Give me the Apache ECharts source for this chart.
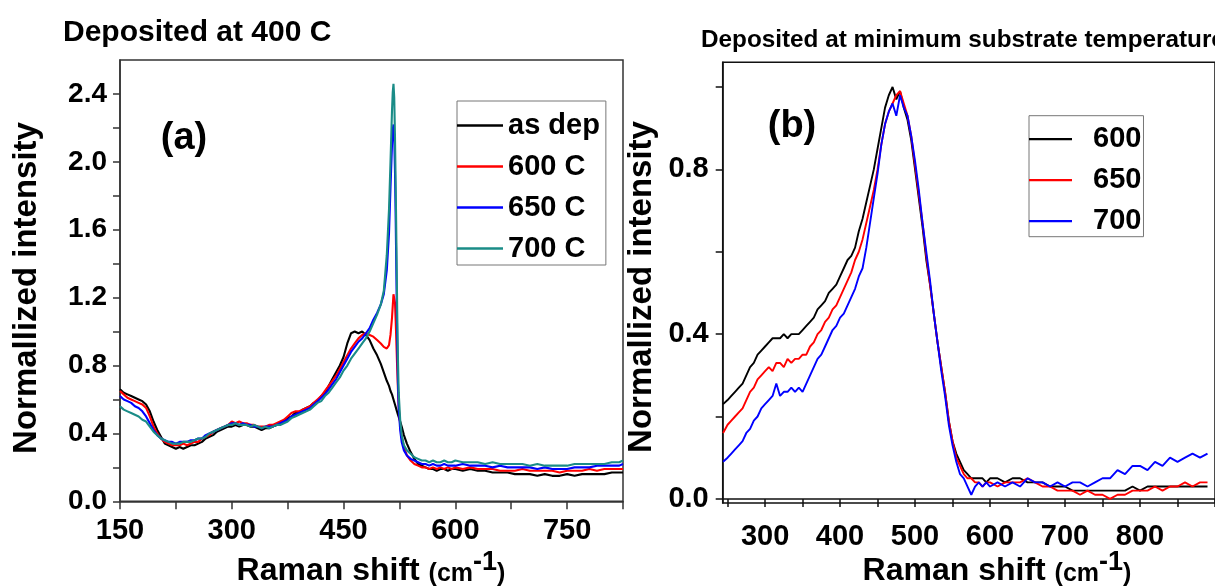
<!DOCTYPE html>
<html>
<head>
<meta charset="utf-8">
<script src="https://cdn.jsdelivr.net/npm/echarts@6/dist/echarts.min.js"></script>
<style>
html,body{margin:0;padding:0;background:#fff;}
#chart{width:1215px;height:586px;}
</style>
</head>
<body>
<div id="chart"></div>
<script>
// ---------- Panel (a): Deposited at 400 C ----------
const ramanA = [150,155,160,165,170,175,180,185,190,195,
200,205,210,215,220,225,230,235,240,245,
250,255,260,265,270,275,280,285,290,295,
300,305,310,315,320,325,330,335,340,345,
350,355,360,365,370,375,380,385,390,395,
400,405,410,415,420,425,430,435,440,445,
450,455,460,465,470,475,480,485,490,495,
500,
504,508,511,513,515,516,517,518,519,520,
521,522,523,524,526,528,531,535,540,545,
550,555,560,565,570,575,580,585,590,595,
600,
610,620,630,640,650,660,670,680,690,700,
710,720,730,740,750,760,770,780,790,800,
810,820,825];
const asDep = [0.66,0.64,0.63,0.62,0.61,0.60,0.59,0.57,0.53,0.47,
0.42,0.38,0.34,0.33,0.32,0.31,0.32,0.31,0.32,0.33,
0.33,0.34,0.35,0.37,0.38,0.39,0.41,0.42,0.43,0.44,
0.44,0.45,0.44,0.45,0.45,0.44,0.44,0.43,0.42,0.43,
0.43,0.44,0.45,0.46,0.47,0.49,0.50,0.52,0.52,0.54,
0.55,0.56,0.58,0.59,0.62,0.64,0.68,0.72,0.76,0.80,
0.85,0.93,0.99,1.00,0.99,1.00,0.98,0.95,0.90,0.86,
0.81,
0.76,0.71,0.68,0.65,0.63,0.62,0.60,0.59,0.57,0.56,
0.54,0.53,0.51,0.50,0.47,0.44,0.39,0.34,0.29,0.25,
0.22,0.21,0.20,0.19,0.19,0.18,0.19,0.19,0.18,0.19,
0.19,
0.18,0.19,0.18,0.18,0.17,0.17,0.17,0.16,0.16,0.16,
0.15,0.16,0.15,0.15,0.16,0.15,0.16,0.16,0.16,0.16,
0.17,0.17,0.17];
const a600 = [0.65,0.63,0.61,0.60,0.59,0.58,0.57,0.55,0.50,0.44,
0.40,0.37,0.35,0.34,0.33,0.33,0.33,0.34,0.33,0.34,
0.35,0.35,0.37,0.38,0.39,0.41,0.42,0.43,0.44,0.45,
0.47,0.46,0.47,0.46,0.46,0.45,0.45,0.44,0.44,0.44,
0.45,0.45,0.46,0.47,0.48,0.50,0.52,0.53,0.53,0.54,
0.55,0.56,0.58,0.60,0.62,0.65,0.68,0.71,0.74,0.78,
0.82,0.86,0.90,0.93,0.96,0.98,0.99,0.98,0.97,0.95,
0.93,
0.91,0.90,0.92,0.98,1.08,1.15,1.22,1.23,1.17,1.06,
0.92,0.78,0.66,0.56,0.45,0.38,0.32,0.27,0.24,0.22,
0.21,0.20,0.20,0.19,0.20,0.19,0.20,0.19,0.20,0.19,
0.20,
0.19,0.20,0.19,0.19,0.19,0.18,0.18,0.18,0.19,0.18,
0.18,0.18,0.18,0.17,0.18,0.18,0.18,0.19,0.18,0.19,
0.19,0.19,0.19];
const a650 = [0.62,0.60,0.59,0.58,0.56,0.55,0.53,0.50,0.46,0.42,
0.39,0.37,0.36,0.35,0.35,0.34,0.35,0.35,0.35,0.36,
0.36,0.37,0.37,0.39,0.40,0.41,0.42,0.43,0.44,0.45,
0.46,0.46,0.45,0.46,0.45,0.45,0.44,0.44,0.43,0.44,
0.44,0.44,0.45,0.46,0.47,0.48,0.50,0.51,0.52,0.53,
0.54,0.55,0.57,0.59,0.61,0.63,0.66,0.69,0.72,0.76,
0.80,0.84,0.88,0.91,0.94,0.96,0.99,1.02,1.07,1.11,
1.16,
1.22,1.36,1.58,1.85,2.10,2.19,2.22,2.15,1.95,1.65,
1.30,0.95,0.70,0.55,0.42,0.35,0.30,0.27,0.25,0.24,
0.23,0.22,0.22,0.21,0.22,0.21,0.21,0.22,0.21,0.21,
0.21,
0.22,0.21,0.21,0.21,0.20,0.21,0.20,0.20,0.20,0.20,
0.19,0.20,0.19,0.19,0.19,0.20,0.20,0.20,0.21,0.21,
0.21,0.21,0.22];
const a700 = [0.56,0.54,0.53,0.52,0.51,0.50,0.48,0.47,0.44,0.41,
0.39,0.37,0.36,0.35,0.34,0.34,0.34,0.35,0.35,0.35,
0.36,0.37,0.37,0.38,0.40,0.41,0.42,0.43,0.44,0.45,
0.45,0.46,0.45,0.45,0.45,0.44,0.45,0.44,0.43,0.44,
0.43,0.44,0.45,0.45,0.46,0.47,0.49,0.50,0.51,0.52,
0.53,0.54,0.56,0.58,0.59,0.62,0.64,0.67,0.70,0.73,
0.77,0.80,0.84,0.87,0.90,0.93,0.96,1.00,1.05,1.10,
1.16,
1.24,1.45,1.72,2.00,2.30,2.41,2.46,2.38,2.15,1.85,
1.50,1.12,0.84,0.64,0.48,0.39,0.33,0.30,0.28,0.26,
0.25,0.24,0.24,0.23,0.24,0.23,0.23,0.24,0.23,0.23,
0.24,
0.23,0.23,0.23,0.22,0.23,0.22,0.22,0.22,0.22,0.21,
0.22,0.21,0.21,0.21,0.21,0.22,0.22,0.22,0.22,0.22,
0.23,0.23,0.24];
const namesA = ['as dep','600 C','650 C','700 C'];
const xTicksA = [150,225,300,375,450,525,600,675,750,825];
const xLabelsA = [150,300,450,600,750];
const yTicksA = [0,0.2,0.4,0.6,0.8,1.0,1.2,1.4,1.6,1.8,2.0,2.2,2.4];
const yLabelsA = [0,0.4,0.8,1.2,1.6,2.0,2.4];

// ---------- Panel (b): Deposited at minimum substrate temperature ----------
const ramanB = [244,250,255,260,265,270,275,280,285,290,
295,300,305,310,315,320,325,330,335,340,
345,350,355,360,365,370,375,380,385,390,
395,400,405,410,415,420,425,430,435,440,
445,450,455,460,465,470,475,480,485,490,
495,500,505,510,515,520,525,530,535,540,
545,550,555,560,565,570,575,580,585,590,
595,600,
610,620,630,640,650,660,670,680,690,700,
710,720,730,740,750,760,770,780,790,800,
810,820,830,840,850,860,870,880,890];
const b600 = [0.23,0.24,0.25,0.26,0.27,0.28,0.30,0.32,0.33,0.35,
0.36,0.37,0.38,0.39,0.39,0.39,0.40,0.39,0.40,0.40,
0.40,0.41,0.42,0.43,0.44,0.46,0.47,0.48,0.50,0.51,
0.52,0.54,0.56,0.58,0.59,0.61,0.65,0.68,0.72,0.76,
0.80,0.85,0.90,0.95,0.98,1.00,0.97,0.99,0.95,0.92,
0.87,0.80,0.73,0.66,0.58,0.52,0.45,0.38,0.32,0.26,
0.19,0.14,0.11,0.09,0.07,0.06,0.05,0.05,0.05,0.05,
0.04,0.05,
0.05,0.04,0.05,0.05,0.04,0.04,0.04,0.03,0.03,0.03,
0.02,0.02,0.02,0.02,0.02,0.02,0.02,0.02,0.03,0.02,
0.03,0.03,0.03,0.03,0.03,0.03,0.03,0.03,0.03];
const b650 = [0.16,0.18,0.19,0.20,0.21,0.22,0.24,0.26,0.27,0.29,
0.30,0.31,0.32,0.31,0.33,0.33,0.32,0.34,0.33,0.34,
0.34,0.35,0.35,0.37,0.38,0.40,0.41,0.43,0.44,0.46,
0.47,0.49,0.51,0.53,0.55,0.58,0.60,0.63,0.67,0.71,
0.75,0.80,0.86,0.91,0.94,0.96,0.98,0.99,0.96,0.93,
0.88,0.81,0.74,0.67,0.59,0.52,0.45,0.38,0.32,0.26,
0.19,0.14,0.10,0.08,0.06,0.05,0.05,0.04,0.04,0.03,
0.04,0.04,
0.03,0.04,0.04,0.04,0.05,0.04,0.03,0.03,0.02,0.02,
0.02,0.01,0.02,0.01,0.01,0.00,0.01,0.01,0.02,0.02,
0.02,0.03,0.02,0.03,0.03,0.04,0.03,0.04,0.04];
const b700 = [0.09,0.10,0.11,0.12,0.13,0.14,0.16,0.17,0.19,0.20,
0.22,0.23,0.24,0.25,0.28,0.25,0.26,0.26,0.27,0.26,
0.27,0.26,0.28,0.30,0.32,0.34,0.35,0.37,0.39,0.41,
0.42,0.44,0.45,0.47,0.49,0.51,0.54,0.56,0.61,0.67,
0.73,0.79,0.86,0.91,0.94,0.96,0.93,0.98,0.95,0.93,
0.88,0.82,0.75,0.67,0.60,0.53,0.45,0.38,0.31,0.25,
0.18,0.13,0.09,0.06,0.05,0.03,0.01,0.03,0.04,0.03,
0.04,0.03,
0.04,0.03,0.04,0.03,0.05,0.04,0.04,0.03,0.04,0.03,
0.04,0.04,0.03,0.04,0.05,0.05,0.07,0.06,0.08,0.08,
0.07,0.09,0.08,0.10,0.09,0.10,0.11,0.10,0.11];
const namesB = ['600','650','700'];
const xTicksB = [250,300,350,400,450,500,550,600,650,700,750,800,850,900];
const xLabelsB = [300,400,500,600,700,800];
const yTicksB = [0,0.2,0.4,0.6,0.8,1.0];
const yLabelsB = [0,0.4,0.8];

// ---------- build ----------
const FONT = 'Liberation Sans, Arial, sans-serif';
const zip = (xs, ys) => xs.map((x, i) => [x, ys[i]]);

function axisCommon(color){
  return {
    axisLine: {show: true, lineStyle: {color: color, width: 1.5}},
    splitLine: {show: false},
  };
}

const series = [];
const colA = ['#000000', '#ff0000', '#0000ff', '#1a8c87'];
[asDep, a600, a650, a700].forEach((arr, i) => {
  series.push({
    name: namesA[i], type: 'line', xAxisIndex: 0, yAxisIndex: 0,
    data: zip(ramanA, arr), symbol: 'none', animation: false,
    lineStyle: {color: colA[i], width: 2.1}, itemStyle: {color: colA[i]}
  });
});
const colB = ['#000000', '#ff0000', '#0000ff'];
[b600, b650, b700].forEach((arr, i) => {
  series.push({
    name: namesB[i], type: 'line', xAxisIndex: 1, yAxisIndex: 1,
    data: zip(ramanB, arr), symbol: 'none', animation: false,
    lineStyle: {color: colB[i], width: 1.9}, itemStyle: {color: colB[i]}
  });
});

const tickLabelStyle = {fontFamily: FONT, fontWeight: 'bold', color: '#000'};

function axisNameText(x){
  return {type: 'text', x: x, y: 587, style: {
    text: '{a|Raman shift }{b|(cm}{c|-1}{b|)}', textAlign: 'center', textVerticalAlign: 'bottom',
    rich: {
      a: {fontFamily: FONT, fontWeight: 'bold', fontSize: 32, verticalAlign: 'bottom', fill: '#000'},
      b: {fontFamily: FONT, fontWeight: 'bold', fontSize: 25, verticalAlign: 'bottom', fill: '#000'},
      c: {fontFamily: FONT, fontWeight: 'bold', fontSize: 27, verticalAlign: 'top', padding: [0, 0, 11, 0], fill: '#000'}
    }}};
}

const option = {
  backgroundColor: '#fff',
  animation: false,
  grid: [
    {left: 120, top: 60, width: 503, height: 441.3, show: true, borderColor: '#333', borderWidth: 1.5, backgroundColor: 'transparent'},
    {left: 722.7, top: 62.3, width: 503, height: 440.7, show: true, borderColor: '#111', borderWidth: 1.5, backgroundColor: 'transparent'}
  ],
  xAxis: [
    Object.assign(axisCommon('#333'), {
      type: 'value', gridIndex: 0, min: 150, max: 825,
      axisTick: {show: true, inside: false, length: 8, customValues: xTicksA, lineStyle: {color: '#333', width: 1.5}},
      axisLabel: Object.assign({customValues: xLabelsA, fontSize: 29, margin: 15, formatter: v => String(v)}, tickLabelStyle)
    }),
    Object.assign(axisCommon('#111'), {
      type: 'value', gridIndex: 1, min: 243.5, max: 900,
      axisTick: {show: true, inside: false, length: 8, customValues: xTicksB, lineStyle: {color: '#111', width: 1.5}},
      axisLabel: Object.assign({customValues: xLabelsB, fontSize: 29, margin: 19, formatter: v => String(v)}, tickLabelStyle)
    })
  ],
  yAxis: [
    Object.assign(axisCommon('#333'), {
      type: 'value', gridIndex: 0, min: 0, max: 2.6,
      axisTick: {show: true, inside: false, length: 7, customValues: yTicksA, lineStyle: {color: '#333', width: 1.5}},
      axisLabel: Object.assign({customValues: yLabelsA, fontSize: 28, margin: 13, formatter: v => v.toFixed(1)}, tickLabelStyle)
    }),
    Object.assign(axisCommon('#111'), {
      type: 'value', gridIndex: 1, min: -0.01, max: 1.06,
      axisTick: {show: true, inside: false, length: 7, customValues: yTicksB, lineStyle: {color: '#111', width: 1.5}},
      axisLabel: Object.assign({customValues: yLabelsB, fontSize: 29, margin: 14, formatter: v => v.toFixed(1)}, tickLabelStyle)
    })
  ],
  legend: [
    {
      data: namesA, orient: 'vertical', left: 457, top: 101,
      icon: 'rect', itemWidth: 46, itemHeight: 2.5, itemGap: 12,
      padding: [10, 6, 2, 0],
      borderColor: '#777', borderWidth: 1, backgroundColor: '#fff',
      textStyle: {fontFamily: FONT, fontWeight: 'bold', fontSize: 29, color: '#000', lineHeight: 29}
    },
    {
      data: namesB, orient: 'vertical', left: 1029, top: 115.7,
      icon: 'rect', itemWidth: 43, itemHeight: 2.2, itemGap: 12,
      padding: [9, 2, 1, 0],
      borderColor: '#777', borderWidth: 1, backgroundColor: '#fff',
      formatter: n => '  ' + n,
      textStyle: {fontFamily: FONT, fontWeight: 'bold', fontSize: 29, color: '#000', lineHeight: 29}
    }
  ],
  graphic: {elements: [
    {type: 'text', left: 63, top: 18, style: {text: 'Deposited at 400 C', font: 'bold 30px ' + FONT, fill: '#000'}},
    {type: 'text', left: 701, top: 28, style: {text: 'Deposited at minimum substrate temperature', font: 'bold 24.3px ' + FONT, fill: '#000'}},
    {type: 'text', x: 184, y: 139, style: {text: '(a)', font: 'bold 38px ' + FONT, fill: '#000', textAlign: 'center', textVerticalAlign: 'middle'}},
    {type: 'text', x: 792, y: 127, style: {text: '(b)', font: 'bold 38px ' + FONT, fill: '#000', textAlign: 'center', textVerticalAlign: 'middle'}},
    {type: 'text', x: 27, y: 288, rotation: Math.PI / 2, style: {text: 'Normallized intensity', font: 'bold 33px ' + FONT, fill: '#000', textAlign: 'center', textVerticalAlign: 'middle'}},
    {type: 'text', x: 642, y: 287, rotation: Math.PI / 2, style: {text: 'Normallized intensity', font: 'bold 33px ' + FONT, fill: '#000', textAlign: 'center', textVerticalAlign: 'middle'}},
    axisNameText(371),
    axisNameText(997)
  ]},
  series: series
};

const chart = echarts.init(document.getElementById('chart'), null, {renderer: 'canvas'});
chart.setOption(option);
</script>
</body>
</html>
